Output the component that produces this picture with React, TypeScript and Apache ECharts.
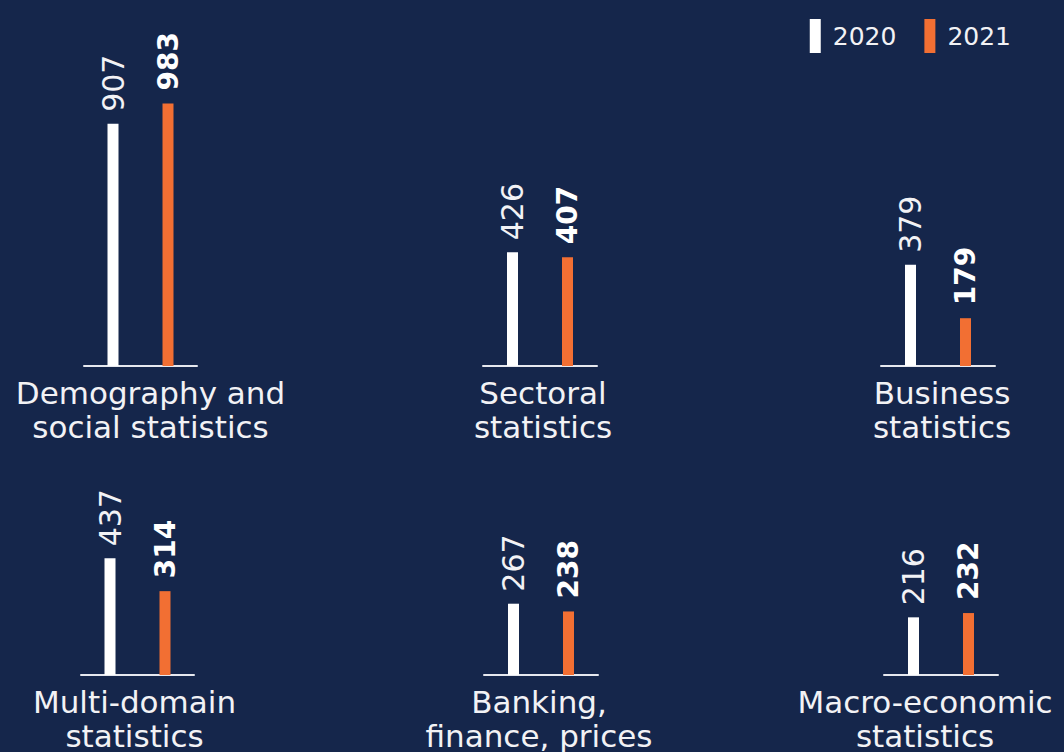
import React, { useEffect, useRef } from "react";
import * as echarts from "echarts";

const categories = [
  "Demography and\nsocial statistics",
  "Sectoral\nstatistics",
  "Business\nstatistics",
  "Multi-domain\nstatistics",
  "Banking,\nfinance, prices",
  "Macro-economic\nstatistics",
];
const years = ["2020", "2021"];
const values2020 = [907, 426, 379, 437, 267, 216];
const values2021 = [983, 407, 179, 314, 238, 232];

// layout of the six small panels
const panelLeft = [84, 483, 881, 81, 484, 884];
const panelWidth = [113, 114, 114, 113, 114, 114];
const panelTop = [99, 99, 99, 408, 408, 408];
const labelShift = [10, 3, 4, -3, -2, -16];

const BG = "#15264B";
const ORANGE = "#F26F33";
const WHITE = "#FFFFFF";
const FONT = "DejaVu Sans";

export default function App() {
  const ref = useRef<HTMLDivElement>(null);
  useEffect(() => {
    if (!ref.current) return;
    const chart = echarts.init(ref.current, undefined, { renderer: "svg" });
    const grid: any[] = [];
    const xAxis: any[] = [];
    const yAxis: any[] = [];
    const series: any[] = [];
    categories.forEach((cat, i) => {
      grid.push({
        left: panelLeft[i],
        width: panelWidth[i],
        top: panelTop[i],
        height: 267,
        containLabel: false,
        outerBoundsMode: "none",
      });
      const s = labelShift[i];
      xAxis.push({
        type: "category",
        gridIndex: i,
        data: [cat],
        axisLine: { show: true, lineStyle: { color: "#E6E8EF", width: 2 } },
        axisTick: { show: false },
        splitLine: { show: false },
        axisLabel: {
          show: true,
          interval: 0,
          color: "#F2F2F5",
          fontFamily: FONT,
          fontSize: 31,
          lineHeight: 34,
          margin: 10,
          padding: s >= 0 ? [0, 0, 0, 2 * s] : [0, -2 * s, 0, 0],
        },
      });
      yAxis.push({
        type: "value",
        gridIndex: i,
        min: 0,
        max: 1000,
        show: false,
        splitLine: { show: false },
      });
      series.push({
        type: "bar",
        name: years[0],
        xAxisIndex: i,
        yAxisIndex: i,
        data: [values2020[i]],
        barWidth: 11,
        barGap: "400%",
        itemStyle: { color: WHITE },
        label: {
          show: true,
          position: "top",
          rotate: 90,
          align: "left",
          verticalAlign: "middle",
          distance: 12,
          color: "#F2F2F5",
          fontFamily: FONT,
          fontSize: 30,
          fontWeight: "normal",
        },
      });
      series.push({
        type: "bar",
        name: years[1],
        xAxisIndex: i,
        yAxisIndex: i,
        data: [values2021[i]],
        barWidth: 11,
        barGap: "400%",
        itemStyle: { color: ORANGE },
        label: {
          show: true,
          position: "top",
          rotate: 90,
          align: "left",
          verticalAlign: "middle",
          distance: 13,
          color: WHITE,
          fontFamily: FONT,
          fontSize: 28,
          fontWeight: "bold",
        },
      });
    });
    chart.setOption({
      animation: false,
      backgroundColor: BG,
      legend: {
        data: years,
        right: 48,
        top: 14,
        icon: "rect",
        itemWidth: 11,
        itemHeight: 34,
        itemGap: 28,
        textStyle: {
          color: "#F2F2F5",
          fontFamily: FONT,
          fontSize: 25,
          padding: [0, 0, 0, 7],
        },
      },
      grid,
      xAxis,
      yAxis,
      series,
    });
    return () => chart.dispose();
  }, []);
  return (
    <div
      ref={ref}
      style={{ position: "fixed", left: 0, top: 0, width: 1064, height: 752 }}
    />
  );
}
